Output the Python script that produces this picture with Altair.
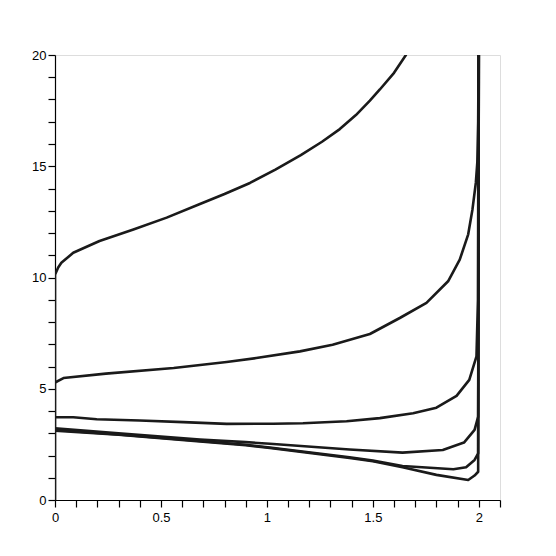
import altair as alt
import pandas as pd

# Curve data
x1 = [0, 0, 0.015, 0.03, 0.086, 0.21, 0.37, 0.527, 0.684, 0.8, 0.92, 1.04, 1.16, 1.26, 1.344, 1.42, 1.486, 1.533, 1.6, 1.656]
y1 = [0, 10.13, 10.45, 10.66, 11.11, 11.64, 12.16, 12.69, 13.3, 13.75, 14.25, 14.85, 15.5, 16.1, 16.67, 17.3, 17.95, 18.45, 19.2, 20.0]

x2 = [0, 0.04, 0.24, 0.56, 0.81, 0.95, 1.156, 1.31, 1.486, 1.627, 1.753, 1.855, 1.91, 1.95, 1.97, 1.986, 1.993, 1.997, 1.999]
y2 = [5.28, 5.48, 5.68, 5.93, 6.2, 6.38, 6.68, 6.98, 7.46, 8.18, 8.86, 9.83, 10.8, 11.94, 13.06, 14.26, 15.17, 17.0, 20.0]

x3 = [0, 0.086, 0.197, 0.40, 0.605, 0.81, 1.03, 1.17, 1.376, 1.533, 1.69, 1.8, 1.895, 1.955, 1.989, 1.996, 1.999]
y3 = [3.72, 3.72, 3.63, 3.57, 3.5, 3.42, 3.43, 3.45, 3.54, 3.68, 3.9, 4.15, 4.68, 5.4, 6.46, 9.0, 20.0]

x4 = [0, 0.3, 0.684, 0.9, 1.014, 1.39, 1.64, 1.83, 1.93, 1.98, 1.997, 2.0]
y4 = [3.22, 3.0, 2.72, 2.6, 2.53, 2.27, 2.13, 2.25, 2.58, 3.15, 3.75, 20.0]

x5 = [0, 0.3, 0.684, 0.9, 1.014, 1.39, 1.5, 1.64, 1.88, 1.94, 1.98, 1.997, 2.0]
y5 = [3.15, 2.95, 2.65, 2.48, 2.36, 1.92, 1.77, 1.53, 1.38, 1.47, 1.8, 2.1, 20.0]

x6 = [0, 0.3, 0.684, 0.9, 1.014, 1.39, 1.5, 1.64, 1.8, 1.95, 1.98, 1.997, 2.0]
y6 = [3.12, 2.93, 2.63, 2.46, 2.34, 1.89, 1.74, 1.47, 1.13, 0.9, 1.1, 1.27, 20.0]

x_ticks = [round(i * 0.1, 1) for i in range(22)]
y_ticks = list(range(21))

rows = []
for name, xs, ys in [("c1", x1, y1), ("c2", x2, y2), ("c3", x3, y3),
                     ("c4", x4, y4), ("c5", x5, y5), ("c6", x6, y6)]:
    for i, (xv, yv) in enumerate(zip(xs, ys)):
        rows.append({"curve": name, "i": i, "x": xv, "y": yv})
df = pd.DataFrame(rows)

chart = alt.Chart(df).mark_line(
    color="#1a1a1a", strokeWidth=2.6, clip=True, strokeJoin="round", strokeCap="round"
).encode(
    x=alt.X("x:Q", scale=alt.Scale(domain=[0, 2.1], nice=False, zero=False),
            axis=alt.Axis(values=x_ticks, title=None, grid=False,
                          labelExpr="round(datum.value*10) % 5 == 0 ? format(datum.value, '~g') : ''",
                          labelFlush=False, labelOverlap=False,
                          domainColor="black", domainWidth=1.2, tickColor="black",
                          tickWidth=1.2, tickSize=7, labelFont="Liberation Sans",
                          labelFontSize=13, labelColor="black", labelPadding=4)),
    y=alt.Y("y:Q", scale=alt.Scale(domain=[0, 20], nice=False, zero=False),
            axis=alt.Axis(values=y_ticks, title=None, grid=False,
                          labelExpr="datum.value % 5 == 0 ? format(datum.value, '~g') : ''",
                          labelFlush=False, labelOverlap=False,
                          domainColor="black", domainWidth=1.2, tickColor="black",
                          tickWidth=1.2, tickSize=7, labelFont="Liberation Sans",
                          labelFontSize=13, labelColor="black", labelPadding=2)),
    detail="curve:N",
    order="i:Q",
).properties(
    width=445, height=445,
    autosize=alt.AutoSizeParams(type="none"),
    padding={"left": 47, "top": 47, "right": 10, "bottom": 40},
).configure_view(stroke=None).configure(background="white")

chart.save("out.html", embed_options={"renderer": "svg", "actions": False})
